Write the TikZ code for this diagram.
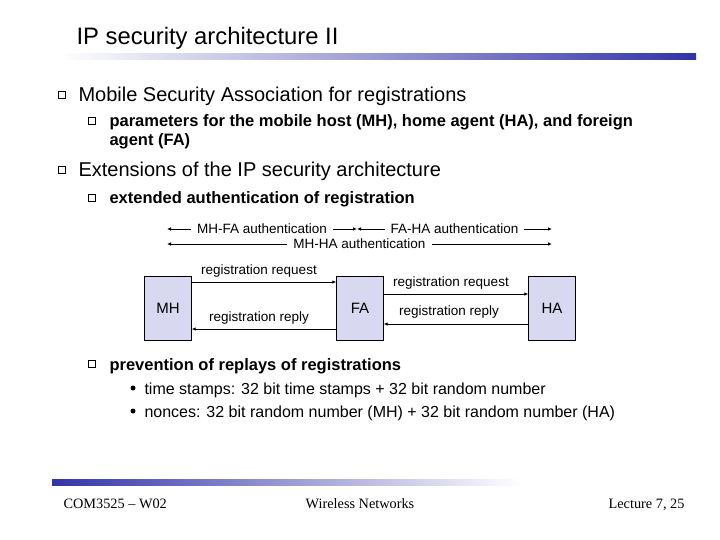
\documentclass[tikz,border=0pt]{standalone}
\usepackage{fontspec}
\setmainfont{Liberation Sans}
\newfontfamily\footfont{Liberation Serif}
\usetikzlibrary{arrows.meta}
\definecolor{boxfill}{RGB}{216,216,240}
\definecolor{barblue}{RGB}{51,51,170}
\tikzset{
  station/.style={draw, fill=boxfill, minimum width=47pt, minimum height=64pt, font=\fontsize{15}{17}\selectfont},
  msg/.style={-{Latex[length=4pt,width=3.5pt]}, thick},
  auth/.style={{Latex[length=4pt,width=3.5pt]}-{Latex[length=4pt,width=3.5pt]}, thick},
  lbl/.style={font=\fontsize{13.5}{15}\selectfont, inner sep=1pt},
  span/.style={lbl, fill=white, inner xsep=6pt},
  box/.style={draw, minimum size=7pt, inner sep=0pt},
  lone/.style={anchor=base west, font=\fontsize{20}{23}\selectfont},
  ltwo/.style={anchor=base west, font=\fontsize{16.5}{19}\selectfont\bfseries},
  lthree/.style={anchor=base west, font=\fontsize{16}{18}\selectfont},
  foot/.style={font=\footfont\fontsize{14.3}{16}\selectfont}
}
\begin{document}
\begin{tikzpicture}[x=1pt,y=-1pt]
    \useasboundingbox (0,0) rectangle (720,540);
    % title and bars
    \node[anchor=base west, font=\fontsize{23.8}{26}\selectfont] (title) at (73,45) {IP security architecture II};
    \shade[left color=white, right color=barblue] (60,54) rectangle (696,60);
    \shade[left color=barblue, right color=white] (52,479) rectangle (520,485);
    % bullets
    \node[box] (b1) at (62,95) {};
    \node[lone] (t1) at (75,102) {Mobile Security Association for registrations};
    \node[box] (b2) at (92,121) {};
    \node[ltwo] (t2) at (106,127) {parameters for the mobile host (MH), home agent (HA), and foreign};
    \node[ltwo] (t2b) at (106,146) {agent (FA)};
    \node[box] (b3) at (62,170) {};
    \node[lone] (t3) at (75,177) {Extensions of the IP security architecture};
    \node[box] (b4) at (92,198) {};
    \node[ltwo] (t4) at (106,204) {extended authentication of registration};
    % authentication spans
    \coordinate (mhl) at (167,229);
    \coordinate (fam) at (357,229);
    \coordinate (har) at (552,229);
    \coordinate (mhl2) at (167,244);
    \coordinate (har2) at (552,244);
    \draw[auth] (mhl) -- node[span] {MH-FA authentication} (fam);
    \draw[auth] (fam) -- node[span] {FA-HA authentication} (har);
    \draw[auth] (mhl2) -- node[span] {MH-HA authentication} (har2);
    % stations
    \node[station] (mh) at (168,308) {MH};
    \node[station] (fa) at (360,308) {FA};
    \node[station] (ha) at (552,308) {HA};
    % messages
    \draw[msg] (mh.east |- 0,282) -- (fa.west |- 0,282);
    \node[lbl, anchor=south] (req1) at (259,279) {registration request};
    \draw[msg] (fa.east |- 0,294) -- (ha.west |- 0,294);
    \node[lbl, anchor=south] (req2) at (451,291) {registration request};
    \draw[msg] (fa.west |- 0,329) -- (mh.east |- 0,329);
    \node[lbl, fill=white] (rep1) at (259,318) {registration reply};
    \draw[msg] (ha.west |- 0,324) -- (fa.east |- 0,324);
    \node[lbl, anchor=south] (rep2) at (449,320) {registration reply};
    % replays
    \node[box] (b5) at (92,364) {};
    \node[ltwo] (t5) at (106,370) {prevention of replays of registrations};
    \fill (133,388) circle (2.5pt);
    \node[lthree] (t6) at (141,394) {time stamps: 32 bit time stamps + 32 bit random number};
    \fill (133,411) circle (2.5pt);
    \node[lthree] (t7) at (141,417) {nonces: 32 bit random number (MH) + 32 bit random number (HA)};
    % footer
    \node[anchor=base west, foot] (f1) at (60,508) {COM3525 – W02};
    \node[anchor=base, foot] (f2) at (360,508) {Wireless Networks};
    \node[anchor=base east, foot] (f3) at (688,508) {Lecture 7, 25};
\end{tikzpicture}
\end{document}
